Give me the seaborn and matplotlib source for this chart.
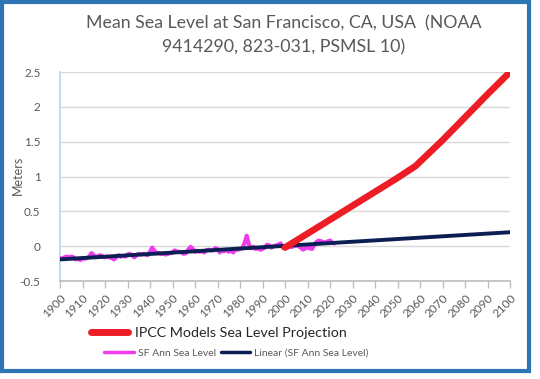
import matplotlib
matplotlib.use("Agg")
import matplotlib.pyplot as plt
from matplotlib.lines import Line2D
from matplotlib.patches import Rectangle
import pandas as pd
import seaborn as sns

# annual mean sea level at San Francisco (m), 1900-2022
sf_years = list(range(1900, 2023))
sf_level = [
    -0.17, -0.18, -0.16, -0.15, -0.16, -0.15, -0.16, -0.19, -0.18, -0.20,
    -0.17, -0.18, -0.17, -0.15, -0.10, -0.13, -0.16, -0.14, -0.13, -0.15,
    -0.16, -0.15, -0.16, -0.17, -0.19, -0.16, -0.13, -0.15, -0.14, -0.15,
    -0.12, -0.11, -0.13, -0.16, -0.13, -0.11, -0.12, -0.11, -0.12, -0.13,
    -0.08, -0.02, -0.07, -0.10, -0.10, -0.11, -0.11, -0.12, -0.11, -0.10,
    -0.09, -0.06, -0.08, -0.08, -0.09, -0.11, -0.10, -0.05, -0.01, -0.04,
    -0.08, -0.07, -0.08, -0.07, -0.09, -0.06, -0.05, -0.06, -0.06, -0.03,
    -0.04, -0.09, -0.06, -0.07, -0.05, -0.08, -0.06, -0.09, -0.04, -0.05,
    -0.04, -0.03, 0.04, 0.15, 0.02, -0.03, -0.01, -0.04, -0.03, -0.05,
    -0.04, -0.02, 0.02, 0.01, -0.02, 0.00, 0.01, 0.02, 0.04, -0.02,
    -0.03, -0.02, -0.01, -0.01, 0.00, 0.01, 0.00, -0.02, -0.05, -0.03,
    -0.02, -0.03, -0.04, 0.02, 0.06, 0.08, 0.07, 0.06, 0.05, 0.07,
    0.08, 0.05, 0.04,
]

# linear trend of the annual series, extended to 2100
trend_years = [1900, 2100]
trend_level = [-0.19, 0.20]

# IPCC projection
ipcc_years = [2000, 2010, 2020, 2030, 2040, 2050, 2058, 2070, 2080, 2090, 2100]
ipcc_level = [-0.02, 0.18, 0.38, 0.58, 0.78, 0.98, 1.15, 1.52, 1.85, 2.18, 2.50]

year_ticks = list(range(1900, 2101, 10))
level_ticks = [-0.5, 0, 0.5, 1, 1.5, 2, 2.5]

sns.set_theme(style="white")
plt.rcParams["font.family"] = ["Lato", "DejaVu Sans"]

gray = "#595959"
magenta = "#EE3BEE"
navy = "#0B1F52"
red = "#EE1C25"

fig = plt.figure(figsize=(5.4, 3.79), dpi=100)
ax = fig.add_axes([60 / 540, 1 - 281 / 379, 450 / 540, 209 / 379])

sf = pd.DataFrame({"year": sf_years, "level": sf_level})
tr = pd.DataFrame({"year": trend_years, "level": trend_level})
ip = pd.DataFrame({"year": ipcc_years, "level": ipcc_level})

sns.lineplot(data=sf, x="year", y="level", color=magenta, lw=3, ax=ax, zorder=3)
sns.lineplot(data=tr, x="year", y="level", color=navy, lw=2.8, ax=ax, zorder=4)
sns.lineplot(data=ip, x="year", y="level", color=red, lw=4.8, ax=ax, zorder=5,
             solid_capstyle="round")

ax.set_xlim(1900, 2100)
ax.set_ylim(-0.5, 2.5)
ax.set_xticks(year_ticks)
ax.set_xticklabels([str(y) for y in year_ticks], rotation=45, ha="right",
                   rotation_mode="anchor", fontsize=8.5, color=gray)
ax.set_yticks(level_ticks)
ax.set_yticklabels([f"{v:g}" for v in level_ticks], fontsize=8.5, color=gray)
ax.yaxis.grid(True, color="#D9D9D9", lw=1)
ax.set_xlabel("")
ax.set_ylabel("")
for s in ["top", "right"]:
    ax.spines[s].set_visible(False)
ax.spines["left"].set_color("#BDD7EE")
ax.spines["bottom"].set_color("#BFBFBF")
ax.tick_params(axis="x", bottom=True, length=5, color="#BFBFBF", width=1, pad=3)
ax.tick_params(axis="y", left=False, pad=8)

fig.text(18 / 540, 1 - 175 / 379, "Meters", rotation=90, ha="center",
         va="center", fontsize=9, color=gray)

fig.text(0.525, 1 - 23 / 379, "Mean Sea Level at San Francisco, CA, USA  (NOAA",
         ha="center", va="center", fontsize=12.8, color=gray)
fig.text(0.525, 1 - 47 / 379, "9414290, 823-031, PSMSL 10)",
         ha="center", va="center", fontsize=12.8, color=gray)

h_red = [Line2D([], [], color=red, lw=5)]
leg1 = fig.legend(h_red, ["IPCC Models Sea Level Projection"], loc="center left",
                  bbox_to_anchor=(78 / 540, 1 - 333 / 379), frameon=False,
                  fontsize=10.3, handlelength=2.6, handletextpad=0.5)
h2 = [Line2D([], [], color=magenta, lw=2.5), Line2D([], [], color=navy, lw=2.5)]
leg2 = fig.legend(h2, ["SF Ann Sea Level", "Linear (SF Ann Sea Level)"], ncol=2,
                  loc="center left", bbox_to_anchor=(95 / 540, 1 - 353 / 379),
                  frameon=False, fontsize=7.5, handlelength=2.8,
                  handletextpad=0.4, columnspacing=0.5)
for t in leg2.get_texts():
    t.set_color(gray)

fig.patches.append(Rectangle((1.5 / 540, 1 - 371 / 379), 527 / 540, 369.5 / 379,
                             transform=fig.transFigure, fill=False,
                             edgecolor="#2E75B6", lw=3))

fig.savefig("out.png", dpi=100)
